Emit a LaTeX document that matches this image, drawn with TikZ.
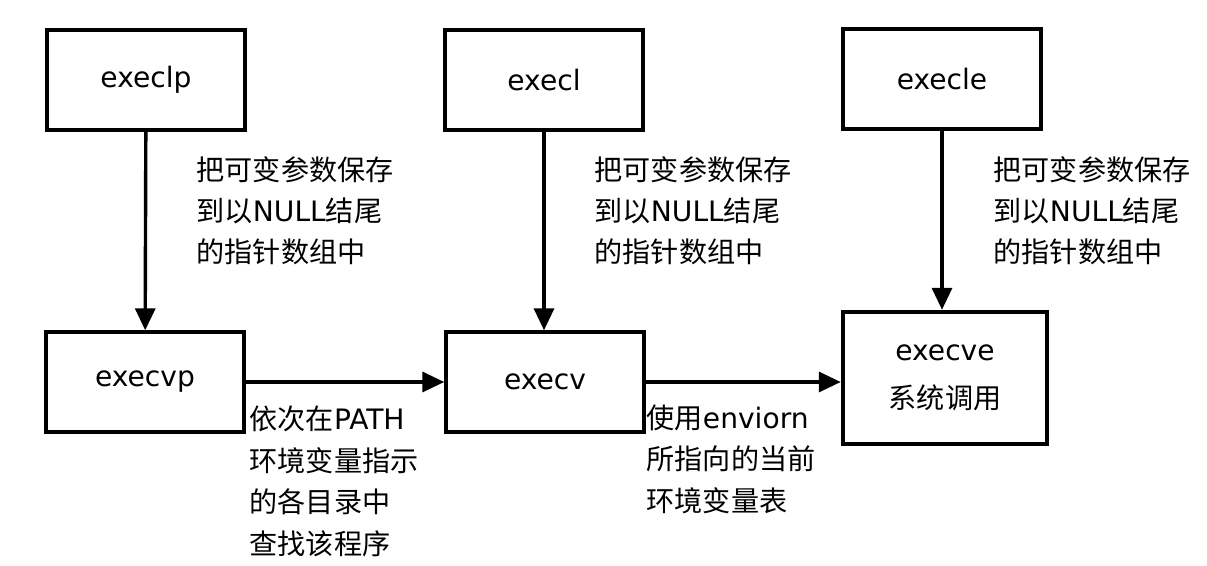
\documentclass[tikz,border=0pt]{standalone}
\usepackage{fontspec}
\setmainfont{DejaVu Sans}
\newfontfamily\cjk{Noto Sans CJK SC}
\usepackage{tikz}
\usetikzlibrary{arrows.meta,positioning,calc}
\tikzset{
    >={Triangle[length=0.55cm,width=0.5cm]},
    every picture/.style={line width=0.085cm},
    fbox/.style={draw,minimum width=4.95cm,minimum height=2.5cm,inner sep=0pt,font=\fontsize{20}{28}\selectfont},
    note/.style={align=left,inner sep=0pt,anchor=base west,font=\fontsize{20}{29}\selectfont}
}
\begin{document}
\begin{tikzpicture}[x=0.025cm,y=-0.025cm]
    \useasboundingbox (0,0) rectangle (1207,565);
    % top row
    \node[fbox] (execlp) at (146,80) {execlp};
    \node[fbox] (execl) at (544,80) {execl};
    \node[fbox] (execle) at (942,79) {execle};
    % bottom row
    \node[fbox] (execvp) at (145,382) {execvp};
    \node[fbox] (execv) at (545,382) {execv};
    \node[fbox,line width=0.11cm,minimum width=5.1cm,minimum height=3.3cm,align=center]
        (execve) at (945,378) {execve\\[6pt]{\cjk 系统调用}};
    % notes (anchored at the last line)
    \node[note] (n1) at (195,262) {{\cjk 把可变参数保存}\\{\cjk 到以}NULL{\cjk 结尾}\\{\cjk 的指针数组中}};
    \node[note] (n2) at (593,262) {{\cjk 把可变参数保存}\\{\cjk 到以}NULL{\cjk 结尾}\\{\cjk 的指针数组中}};
    \node[note] (n3) at (992,262) {{\cjk 把可变参数保存}\\{\cjk 到以}NULL{\cjk 结尾}\\{\cjk 的指针数组中}};
    \node[note,font=\fontsize{20}{29.5}\selectfont] (n4) at (248,554) {{\cjk 依次在}PATH\\{\cjk 环境变量指示}\\{\cjk 的各目录中}\\{\cjk 查找该程序}};
    \node[note,font=\fontsize{20}{29.5}\selectfont] (n5) at (645,511) {{\cjk 使用}enviorn\\{\cjk 所指向的当前}\\{\cjk 环境变量表}};
    % arrows
    \draw[->] (execlp) -- (execvp);
    \draw[->] (execl.south) -- (execl.south |- execv.north);
    \draw[->] (execle.south) -- (execle.south |- execve.north);
    \draw[->] (execvp.east) -- (execvp.east -| execv.west);
    \draw[->] (execv.east) -- (execv.east -| execve.west);
\end{tikzpicture}
\end{document}
